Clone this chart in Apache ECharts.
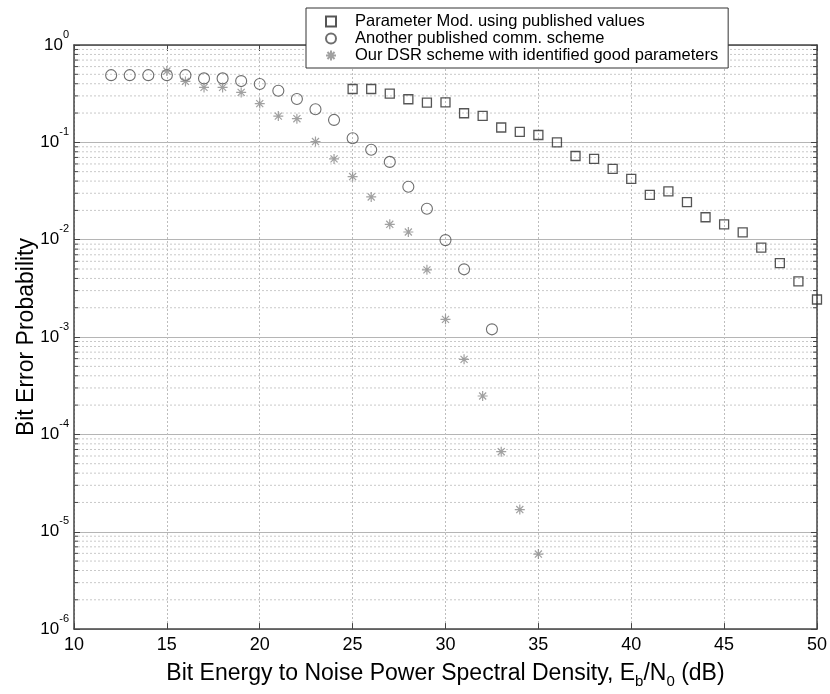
<!DOCTYPE html>
<html>
<head>
<meta charset="utf-8">
<script src="https://cdn.jsdelivr.net/npm/echarts@6/dist/echarts.min.js"></script>
<style>
  html, body { margin: 0; padding: 0; background: #fff; }
  #chart { width: 830px; height: 694px; }
</style>
</head>
<body>
<div id="chart"></div>
<script>
// Eb/N0 (dB) and bit error probability for each scheme
const paramEbN0 = [25, 26, 27, 28, 29, 30, 31, 32, 33, 34, 35, 36, 37, 38, 39, 40, 41, 42, 43, 44, 45, 46, 47, 48, 49, 50];
const paramBer = [0.353, 0.353, 0.316, 0.277, 0.256, 0.258, 0.199, 0.187, 0.142, 0.128, 0.119, 0.100, 0.0724, 0.0675, 0.0533, 0.0422, 0.0289, 0.0313, 0.0243, 0.0170, 0.0144, 0.0119, 0.0083, 0.00575, 0.00374, 0.00243];

const otherEbN0 = [12, 13, 14, 15, 16, 17, 18, 19, 20, 21, 22, 23, 24, 25, 26, 27, 28, 29, 30, 31, 32.5];
const otherBer = [0.49, 0.49, 0.49, 0.49, 0.49, 0.454, 0.454, 0.426, 0.397, 0.339, 0.279, 0.219, 0.170, 0.110, 0.084, 0.063, 0.035, 0.0208, 0.0099, 0.00496, 0.0012];

const dsrEbN0 = [15, 16, 17, 18, 19, 20, 21, 22, 23, 24, 25, 26, 27, 28, 29, 30, 31, 32, 33, 34, 35];
const dsrBer = [0.54, 0.423, 0.367, 0.367, 0.326, 0.25, 0.186, 0.175, 0.102, 0.0676, 0.0445, 0.0275, 0.0144, 0.012, 0.0049, 0.00152, 0.00059, 0.000248, 6.64e-5, 1.69e-5, 5.9e-6];

const seriesNames = [
  'Parameter Mod. using published values',
  'Another published comm. scheme',
  'Our DSR scheme with identified good parameters'
];

// axis ranges
const xMin = 10, xMax = 50, xStep = 5;
const yMin = 1e-6, yMax = 1;

// minor log grid values (2..9 x 10^k)
const minorBer = [];
for (let k = -6; k < 0; k++) {
  for (let m = 2; m <= 9; m++) minorBer.push(Number((m * Math.pow(10, k)).toPrecision(3)));
}

const zip = (xs, ys) => xs.map((x, i) => [x, ys[i]]);

const FONT = '"Liberation Sans", Arial, Helvetica, sans-serif';
const AXIS_COLOR = '#444';

const starPath = 'path://M5,0 L5,10 M0,5 L10,5 M1.46,1.46 L8.54,8.54 M1.46,8.54 L8.54,1.46';

const chart = echarts.init(document.getElementById('chart'), null, { renderer: 'canvas' });

chart.setOption({
  animation: false,
  backgroundColor: '#fff',
  textStyle: { fontFamily: FONT, color: '#000' },
  grid: { left: 74, right: 12, top: 45, bottom: 62, containLabel: false },
  legend: {
    data: seriesNames,
    orient: 'vertical',
    left: 306,
    top: 8,
    padding: [5, 10, 4, 19],
    itemGap: 0,
    itemWidth: 10,
    itemHeight: 10,
    backgroundColor: '#fff',
    borderColor: '#333',
    borderWidth: 1,
    z: 20,
    selectedMode: false,
    textStyle: { fontFamily: FONT, fontSize: 16.5, lineHeight: 17, color: '#000', padding: [0, 0, 0, 14] }
  },
  xAxis: [{
    type: 'value',
    min: xMin, max: xMax, interval: xStep,
    position: 'bottom',
    name: 'Bit Energy to Noise Power Spectral Density, E{s|b}/N{s|0} (dB)',
    nameLocation: 'middle',
    nameGap: 21,
    nameTextStyle: {
      fontFamily: FONT, fontSize: 23, lineHeight: 30, color: '#000',
      rich: { s: { fontFamily: FONT, fontSize: 15, lineHeight: 15, verticalAlign: 'bottom', color: '#000' } }
    },
    axisLine: { show: true, onZero: false, lineStyle: { color: AXIS_COLOR, width: 1.5 } },
    axisTick: { show: true, inside: true, length: 6, lineStyle: { color: AXIS_COLOR } },
    axisLabel: { fontFamily: FONT, fontSize: 18, color: '#000', margin: 7 },
    splitLine: { show: true, lineStyle: { color: '#bdbdbd', type: [2, 2], width: 1 } }
  }, {
    type: 'value',
    min: xMin, max: xMax, interval: xStep,
    position: 'top',
    axisLine: { show: true, onZero: false, lineStyle: { color: AXIS_COLOR, width: 1.5 } },
    axisTick: { show: true, inside: true, length: 6, lineStyle: { color: AXIS_COLOR } },
    axisLabel: { show: false },
    splitLine: { show: false }
  }],
  yAxis: [{
    type: 'log',
    logBase: 10,
    min: yMin, max: yMax,
    interval: 1,
    position: 'left',
    name: 'Bit Error Probability',
    nameLocation: 'middle',
    nameGap: 36,
    nameMoveOverlap: false,
    nameTextStyle: { fontFamily: FONT, fontSize: 23, color: '#000' },
    axisLine: { show: true, onZero: false, lineStyle: { color: AXIS_COLOR, width: 1.5 } },
    axisTick: { show: true, inside: true, length: 6, lineStyle: { color: AXIS_COLOR } },
    axisLabel: {
      margin: 5,
      formatter: (v) => '{b|10}{sup|' + Math.round(Math.log10(v)) + '}',
      rich: {
        b: { fontFamily: FONT, fontSize: 17, lineHeight: 32, color: '#000' },
        sup: { fontFamily: FONT, fontSize: 11, lineHeight: 13, verticalAlign: 'top', color: '#000' }
      }
    },
    splitLine: { show: true, lineStyle: { color: '#b5b5b5', width: 1 } }
  }, {
    type: 'log',
    logBase: 10,
    min: yMin, max: yMax,
    interval: 1,
    position: 'right',
    axisLine: { show: true, onZero: false, lineStyle: { color: AXIS_COLOR, width: 1.5 } },
    axisTick: { show: true, inside: true, length: 6, lineStyle: { color: AXIS_COLOR } },
    axisLabel: { show: false },
    splitLine: { show: false }
  }],
  series: [
    {
      // minor log grid lines and minor ticks on both y axes
      type: 'custom',
      name: 'minor',
      xAxisIndex: 0, yAxisIndex: 0,
      silent: true,
      clip: false,
      z: 1,
      data: minorBer.map(v => [xMin, v]),
      renderItem: (params, api) => {
        const v = api.value(1);
        const l = api.coord([xMin, v]);
        const r = api.coord([xMax, v]);
        return {
          type: 'group',
          children: [
            { type: 'line', shape: { x1: l[0], y1: l[1], x2: r[0], y2: r[1] },
              style: { stroke: '#c9c9c9', lineWidth: 1, lineDash: [2, 2] } },
            { type: 'line', shape: { x1: l[0], y1: l[1], x2: l[0] + 4, y2: l[1] },
              style: { stroke: AXIS_COLOR, lineWidth: 1 } },
            { type: 'line', shape: { x1: r[0] - 4, y1: r[1], x2: r[0], y2: r[1] },
              style: { stroke: AXIS_COLOR, lineWidth: 1 } }
          ]
        };
      }
    },
    {
      type: 'scatter',
      name: seriesNames[0],
      data: zip(paramEbN0, paramBer),
      symbol: 'rect',
      symbolSize: 9,
      z: 5,
      itemStyle: { color: 'transparent', borderColor: '#2a2a2a', borderWidth: 1.3 }
    },
    {
      type: 'scatter',
      name: seriesNames[1],
      data: zip(otherEbN0, otherBer),
      symbol: 'circle',
      symbolSize: 11,
      z: 5,
      itemStyle: { color: 'transparent', borderColor: '#4a4a4a', borderWidth: 1.1 }
    },
    {
      type: 'scatter',
      name: seriesNames[2],
      data: zip(dsrEbN0, dsrBer),
      symbol: starPath,
      symbolSize: 10,
      symbolKeepAspect: true,
      z: 5,
      itemStyle: { color: 'transparent', borderColor: '#8a8a8a', borderWidth: 1.2 }
    }
  ]
});
</script>
</body>
</html>
